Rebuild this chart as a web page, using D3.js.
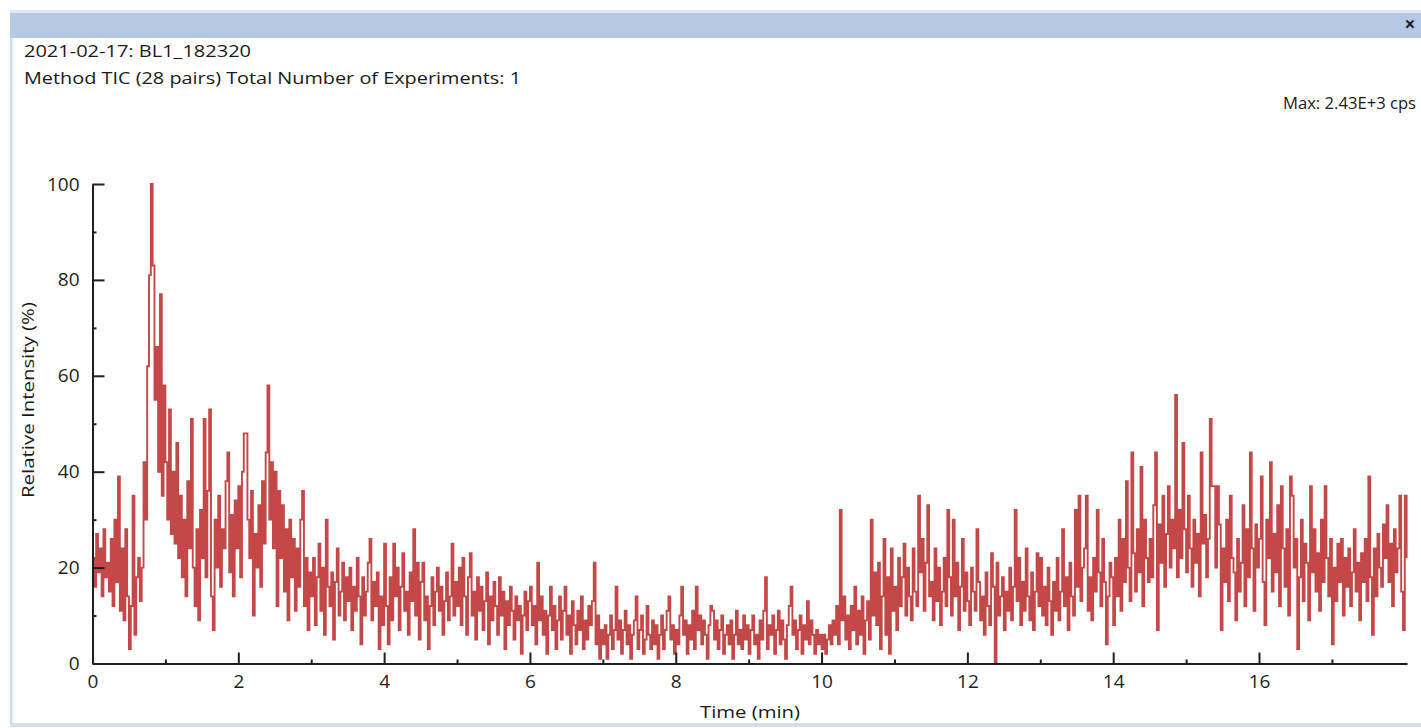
<!DOCTYPE html>
<html>
<head>
<meta charset="utf-8">
<script src="https://cdn.jsdelivr.net/npm/d3@7"></script>
<style>
  body { margin: 0; background: #ffffff; }
  svg text { font-family: "Open Sans", "Noto Sans", "DejaVu Sans", sans-serif; }
</style>
</head>
<body>
<svg id="chart" width="1421" height="728"></svg>
<script>
// ---------- DATA (one value per 0.025-min scan) ----------
const scanInterval = 0.025; // minutes between scans

const tic00to03 = [
  22,16,27,19,24,14,28,18,21,15, 26,12,30,17,39,11,24,9,28,14, 3,12,35,6,18,22,13,20,42,30, 62,81,100,83,55,66,40,77,35,58,
  42,30,53,27,40,25,46,22,35,18, 30,14,38,24,51,20,12,28,9,32, 22,51,18,36,53,14,7,30,20,35, 16,28,24,38,44,19,31,14,34,24,
  37,18,40,48,48,30,22,36,10,27, 20,33,16,38,25,44,58,30,42,24, 40,12,36,22,33,15,28,9,30,18, 26,11,24,16,30,36,12,22,7,19
];
const tic03to06 = [
  14,22,8,18,25,11,20,6,30,16, 12,19,5,17,24,10,15,21,9,18, 13,20,7,16,11,22,14,4,18,10, 15,21,26,9,17,12,19,3,14,8,
  25,12,4,18,9,25,14,20,7,16, 23,11,15,6,19,13,28,10,21,5, 17,21,9,14,3,12,18,8,15,20, 11,16,6,13,19,9,14,25,10,17,
  12,20,8,22,14,6,18,23,10,15, 5,18,11,16,7,13,19,4,14,9, 17,12,6,18,10,15,3,13,8,16, 11,5,14,9,12,2,10,15,7,13
];
const tic06to09 = [
  16,8,12,4,21,9,14,6,11,2, 10,16,7,12,3,9,14,5,11,16, 6,10,2,13,8,4,11,7,14,3, 9,5,12,8,13,21,4,10,1,7,
  4,8,1,6,10,3,7,16,5,9, 2,7,11,4,8,1,6,9,14,3, 7,10,2,5,12,6,3,9,4,8, 1,6,10,3,7,11,14,5,8,2,
  7,4,10,16,6,9,2,8,5,11, 3,16,7,10,4,9,6,1,8,12, 11,5,9,3,7,10,2,6,8,4, 9,1,6,11,4,7,3,10,5,8
];
const tic09to12 = [
  2,7,10,4,6,1,9,5,11,18, 3,8,6,10,2,7,11,4,9,5, 1,8,12,16,6,9,3,7,10,2, 8,5,13,4,9,6,2,7,4,6,
  3,6,2,5,8,4,9,6,12,4, 32,9,14,5,10,3,12,7,16,4, 11,6,14,2,9,13,5,30,10,19, 8,21,3,14,26,6,18,2,24,11,
  16,7,22,12,18,25,10,20,14,9, 24,15,12,35,19,26,11,21,33,14, 17,9,24,13,20,8,15,22,12,32, 18,10,30,14,21,7,16,26,11,19
];
const tic12to15 = [
  13,8,20,15,11,28,17,9,14,6, 19,12,8,23,16,0,21,10,14,18, 7,15,11,20,9,16,32,13,22,8, 17,11,24,14,9,19,7,15,23,12,
  22,10,16,8,20,13,6,17,11,22, 9,15,28,12,18,7,21,14,10,32, 16,35,13,20,24,35,11,18,9,22, 15,32,19,12,26,17,4,14,21,18,
  8,22,14,30,11,26,17,38,20,13, 44,23,15,28,19,41,12,30,22,17, 26,18,33,44,7,29,21,35,16,27, 37,20,30,24,56,18,32,22,46,28
];
const tic15to18 = [
  19,35,24,16,30,21,27,14,44,25, 31,18,26,51,37,37,20,37,29,7, 24,17,30,13,35,22,19,9,26,15, 21,33,12,28,18,44,24,11,29,20,
  26,39,17,8,30,22,42,15,27,19, 33,12,37,24,16,28,10,39,35,20, 26,3,18,30,13,25,21,9,37,19, 28,15,23,11,30,17,37,22,14,26,
  4,20,13,25,17,26,10,22,16,24, 12,19,28,15,21,9,23,17,26,13, 39,18,6,24,14,27,20,16,29,22, 33,17,25,12,28,19,24,35,15,7,
  35,22
];

const xMajorTicks = [0, 2, 4, 6, 8, 10, 12, 14, 16];
const xMinorTicks = [1, 3, 5, 7, 9, 11, 13, 15, 17];
const yMajorTicks = [0, 20, 40, 60, 80, 100];
const yMinorTicks = [10, 30, 50, 70, 90];

const headerLine1 = "2021-02-17: BL1_182320";
const headerLine2 = "Method TIC (28 pairs) Total Number of Experiments: 1";
const maxLabel = "Max: 2.43E+3 cps";
const xTitle = "Time (min)";
const yTitle = "Relative Intensity (%)";

// ---------- DRAW ----------
const intensity = [].concat(tic00to03, tic03to06, tic06to09, tic09to12, tic12to15, tic15to18);
const points = intensity.map((v, i) => ({ t: i * scanInterval, v: v }));

const svg = d3.select("#chart");

// window frame
svg.append("rect").attr("x", 10).attr("y", 10).attr("width", 1411).attr("height", 3).attr("fill", "#dfe9f4");
svg.append("rect").attr("x", 10).attr("y", 13).attr("width", 1411).attr("height", 25).attr("fill", "#b4c9e4");
svg.append("rect").attr("x", 10).attr("y", 38).attr("width", 2.5).attr("height", 688).attr("fill", "#cfdbe8");
svg.append("rect").attr("x", 10).attr("y", 723).attr("width", 1411).attr("height", 4).attr("fill", "#d5dee9");
svg.append("text").attr("x", 1410).attr("y", 31).attr("text-anchor", "middle")
  .attr("font-size", 19).attr("font-weight", "bold").attr("fill", "#1e1e1e").text("×");

// header texts
svg.append("text").attr("x", 24).attr("y", 57).attr("font-size", 16).attr("fill", "#1a1a1a")
  .attr("textLength", 227).attr("lengthAdjust", "spacingAndGlyphs").text(headerLine1);
svg.append("text").attr("x", 24).attr("y", 84).attr("font-size", 16).attr("fill", "#1a1a1a")
  .attr("textLength", 497).attr("lengthAdjust", "spacingAndGlyphs").text(headerLine2);
svg.append("text").attr("x", 1283).attr("y", 109).attr("font-size", 16).attr("fill", "#1a1a1a")
  .attr("textLength", 133).attr("lengthAdjust", "spacingAndGlyphs").text(maxLabel);

const x = d3.scaleLinear().domain([0, 18.03]).range([92.5, 1407]);
const y = d3.scaleLinear().domain([0, 100]).range([663.5, 184]);

// trace
const line = d3.line().x(d => x(d.t)).y(d => y(d.v)).curve(d3.curveStepAfter);
svg.append("path").datum(points).attr("d", line)
  .attr("fill", "none").attr("stroke", "#c54848").attr("stroke-width", 1.9)
  .attr("stroke-linejoin", "miter");

// axes
function styleAxis(g) {
  g.selectAll(".domain").attr("stroke", "#1e1e1e").attr("stroke-width", 2);
  g.selectAll(".tick line").attr("stroke", "#1e1e1e").attr("stroke-width", 2);
  g.selectAll(".tick text").attr("fill", "#1e1e1e").attr("font-size", 19)
    .attr("font-family", "\"Open Sans\", \"Noto Sans\", sans-serif");
}

const gx = svg.append("g").attr("transform", `translate(0,${y(0)})`)
  .call(d3.axisBottom(x).tickValues(xMajorTicks).tickSize(-11).tickSizeOuter(0).tickPadding(11).tickFormat(d3.format("d")));
styleAxis(gx);
const gxm = svg.append("g").attr("transform", `translate(0,${y(0)})`)
  .call(d3.axisBottom(x).tickValues(xMinorTicks).tickSize(-4).tickFormat(""));
gxm.select(".domain").remove();
styleAxis(gxm);

const gy = svg.append("g").attr("transform", `translate(${x(0)},0)`)
  .call(d3.axisLeft(y).tickValues(yMajorTicks).tickSize(-12).tickSizeOuter(0).tickPadding(13).tickFormat(d3.format("d")));
styleAxis(gy);
const gym = svg.append("g").attr("transform", `translate(${x(0)},0)`)
  .call(d3.axisLeft(y).tickValues(yMinorTicks).tickSize(-4).tickFormat(""));
gym.select(".domain").remove();
styleAxis(gym);

// axis titles
svg.append("text").attr("x", 750).attr("y", 718).attr("text-anchor", "middle")
  .attr("font-size", 16).attr("fill", "#1a1a1a")
  .attr("textLength", 100).attr("lengthAdjust", "spacingAndGlyphs").text(xTitle);
svg.append("text").attr("transform", "translate(34,400) rotate(-90)").attr("text-anchor", "middle")
  .attr("font-size", 15.5).attr("fill", "#1a1a1a")
  .attr("textLength", 196).attr("lengthAdjust", "spacingAndGlyphs").text(yTitle);
</script>
</body>
</html>
